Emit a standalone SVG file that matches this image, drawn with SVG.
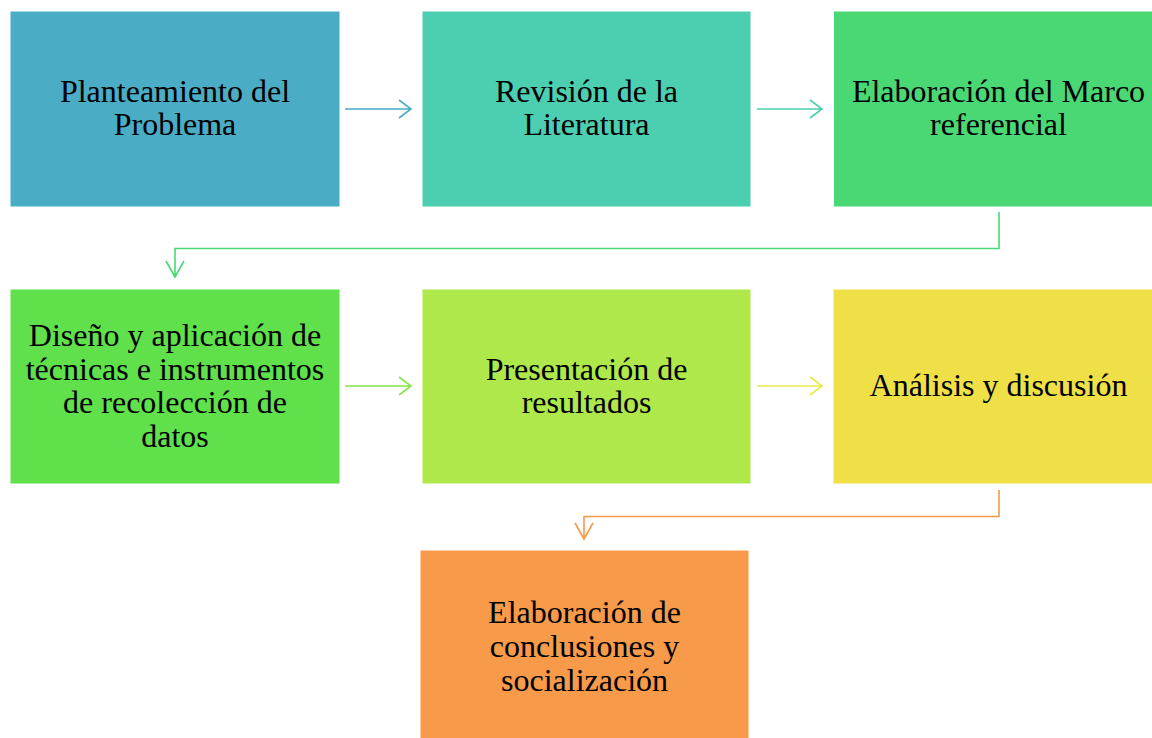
<svg xmlns="http://www.w3.org/2000/svg" width="1152" height="738" viewBox="0 0 1152 738">
<style>
text{font-family:"Liberation Serif","Times New Roman",serif;font-size:32px;fill:#000;text-anchor:middle}
.c{fill:none;stroke-width:1.6}
</style>
<rect width="1152" height="738" fill="#fff"/>
<g id="connectors">
<path class="c" stroke="#4BACC6" d="M345 109H411M399 100L411 109L399 118"/>
<path class="c" stroke="#4BCFB0" d="M757 109H822M810 100L822 109L810 118"/>
<path class="c" stroke="#4AD874" d="M999 212V248.5H175V277M166 261L175 277L184 261"/>
<path class="c" stroke="#88E44A" d="M345 386H411M399 377L411 386L399 395"/>
<path class="c" stroke="#E8EA4A" d="M757 386H822M810 377L822 386L810 395"/>
<path class="c" stroke="#F79A4A" d="M999 490V516.5H584V539M575 523L584 539L593 523"/>
</g>
<g id="n1"><rect x="10.5" y="11.5" width="329" height="195" fill="#4BACC6"/><text x="175" y="102">Planteamiento del</text><text x="175" y="135">Problema</text></g>
<g id="n2"><rect x="422.5" y="11.5" width="328" height="195" fill="#4BCFB0"/><text x="586.5" y="102">Revisión de la</text><text x="586.5" y="135">Literatura</text></g>
<g id="n3"><rect x="834" y="11.5" width="330" height="195" fill="#4AD874"/><text x="998.5" y="102">Elaboración del Marco</text><text x="998.5" y="135">referencial</text></g>
<g id="n4"><rect x="10.5" y="289.5" width="329" height="194" fill="#60E04A"/><text x="175" y="346">Diseño y aplicación de</text><text x="175" y="380">técnicas e instrumentos</text><text x="175" y="413">de recolección de</text><text x="175" y="447">datos</text></g>
<g id="n5"><rect x="422.5" y="289.5" width="328" height="194" fill="#AEE84A"/><text x="586.5" y="380">Presentación de</text><text x="586.5" y="413">resultados</text></g>
<g id="n6"><rect x="833.5" y="289.5" width="330" height="194" fill="#F0E047"/><text x="998.5" y="396">Análisis y discusión</text></g>
<g id="n7"><rect x="420.5" y="550.5" width="328" height="195" fill="#F79A4A"/><text x="584.5" y="623">Elaboración de</text><text x="584.5" y="657">conclusiones y</text><text x="584.5" y="691">socialización</text></g>
</svg>
